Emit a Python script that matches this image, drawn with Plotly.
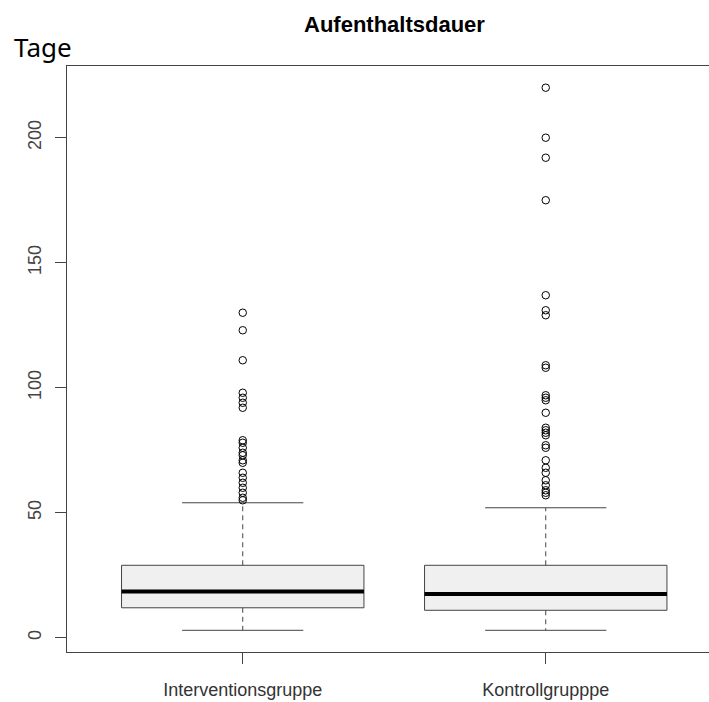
import plotly.graph_objects as go

# ---- data ----
groups = ["Interventionsgruppe", "Kontrollgrupppe"]
whisker_low = [3, 3]
q1 = [12, 11]
median = [18.5, 17.5]
q3 = [29, 29]
whisker_high = [54, 52]
outliers_interv = [130, 123, 111, 98, 96, 94, 92, 79, 78, 76, 74, 73, 71, 70,
                   66, 64, 62, 60, 58, 56, 55]
outliers_kontroll = [220, 200, 192, 175, 137, 131, 129, 109, 108, 97, 96, 95, 90,
                     84, 83, 82, 81, 77, 76, 71, 68, 66, 63, 61, 59, 58, 57]
outliers = [outliers_interv, outliers_kontroll]
y_ticks = [0, 50, 100, 150, 200]
title = "Aufenthaltsdauer"
y_label = "Tage"

BOX_HALF = 0.4
CAP_HALF = 0.2
LINE = "#444444"
FONT = "Liberation Sans, Arial, sans-serif"

fig = go.Figure()
for i, name in enumerate(groups):
    c = i + 1
    # box body
    fig.add_trace(go.Scatter(
        x=[c - BOX_HALF, c + BOX_HALF, c + BOX_HALF, c - BOX_HALF, c - BOX_HALF],
        y=[q1[i], q1[i], q3[i], q3[i], q1[i]],
        mode="lines", fill="toself", fillcolor="#F0F0F0",
        line=dict(color=LINE, width=1), hoverinfo="skip", showlegend=False))
    # median
    fig.add_trace(go.Scatter(
        x=[c - BOX_HALF, c + BOX_HALF], y=[median[i], median[i]],
        mode="lines", line=dict(color="black", width=4),
        hoverinfo="skip", showlegend=False))
    # whiskers (dashed)
    fig.add_trace(go.Scatter(
        x=[c, c, None, c, c],
        y=[q3[i], whisker_high[i], None, q1[i], whisker_low[i]],
        mode="lines", line=dict(color=LINE, width=1, dash="5px,4px"),
        hoverinfo="skip", showlegend=False))
    # caps
    fig.add_trace(go.Scatter(
        x=[c - CAP_HALF, c + CAP_HALF, None, c - CAP_HALF, c + CAP_HALF],
        y=[whisker_high[i], whisker_high[i], None, whisker_low[i], whisker_low[i]],
        mode="lines", line=dict(color=LINE, width=1),
        hoverinfo="skip", showlegend=False))
    # outliers
    fig.add_trace(go.Scatter(
        x=[c] * len(outliers[i]), y=outliers[i], mode="markers",
        marker=dict(symbol="circle-open", size=7.5, color="black",
                    line=dict(width=1, color="black")),
        showlegend=False, name=name))

fig.update_layout(
    width=709, height=702,
    margin=dict(l=67, r=0, t=66, b=50),
    paper_bgcolor="white", plot_bgcolor="white",
    showlegend=False,
    xaxis=dict(range=[0.42, 0.42 + 642 / 303], tickvals=[1, 2], ticktext=groups,
               showgrid=False, zeroline=False, showline=True, mirror=True,
               linecolor=LINE, linewidth=1, ticks="outside", ticklen=11,
               tickcolor=LINE, tickfont=dict(family=FONT, size=18, color="#333333"),
               ticklabelstandoff=10),
    yaxis=dict(range=[-5.68, 228.68], tickvals=y_ticks,
               showgrid=False, zeroline=False, showline=True, mirror=False,
               linecolor=LINE, linewidth=1, ticks="outside", ticklen=11,
               tickcolor=LINE, tickangle=-90,
               tickfont=dict(family=FONT, size=18, color="#444444"),
               ticklabelstandoff=7),
    annotations=[
        dict(text="<b>" + title + "</b>", xref="paper", yref="paper",
             x=(394.5 - 67) / 642, y=(652 - 24) / 586, xanchor="center", yanchor="middle",
             showarrow=False, font=dict(family=FONT, size=22, color="black")),
        dict(text=y_label, xref="paper", yref="paper",
             x=(12 - 67) / 642, y=(652 - 47) / 586, xanchor="left", yanchor="middle",
             showarrow=False, font=dict(family="Noto Sans", size=26, color="black")),
    ],
)

fig.write_html("out.html")
